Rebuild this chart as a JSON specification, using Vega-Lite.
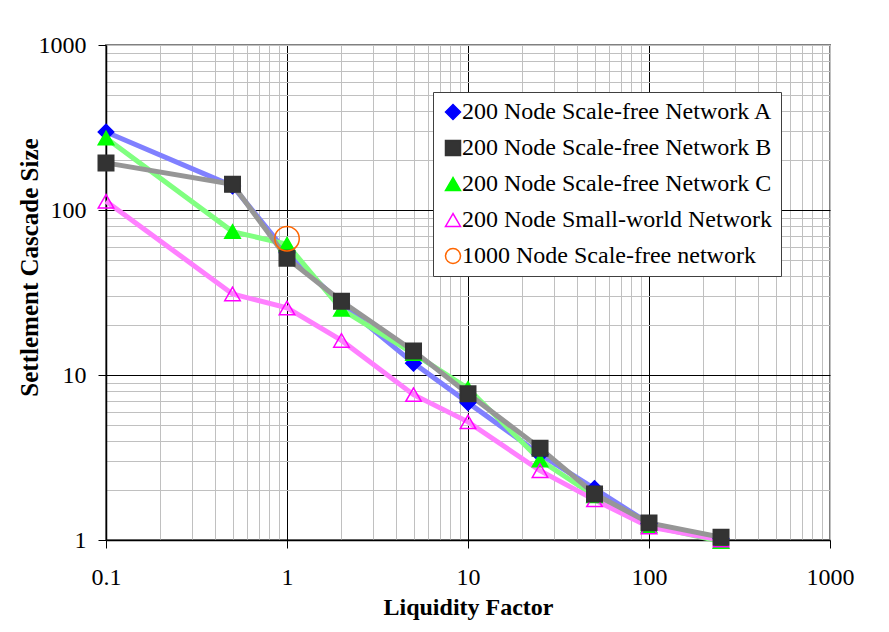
{
  "$schema": "https://vega.github.io/schema/vega-lite/v6.json",
  "autosize": {"type": "none"},
  "padding": {"left": 106, "top": 45, "right": 59, "bottom": 92},
  "width": 724,
  "height": 495,
  "background": "white",
  "config": {
    "view": {"stroke": "#808080", "strokeWidth": 2},
    "axis": {
      "labelFont": "Liberation Serif",
      "labelFontSize": 24,
      "labelColor": "black",
      "titleFont": "Liberation Serif",
      "titleFontSize": 24,
      "titleFontWeight": "bold",
      "titleColor": "black",
      "domainColor": "black",
      "domainWidth": 1.5,
      "tickColor": "black",
      "tickSize": 8,
      "tickWidth": 1,
      "gridWidth": 1
    },
    "legend": {
      "labelFont": "Liberation Serif",
      "labelFontSize": 24,
      "labelColor": "black",
      "labelLimit": 500,
      "symbolSize": 225,
      "symbolStrokeWidth": 1.5
    }
  },
  "datasets": {
    "series": [
      {"series": "200 Node Scale-free Network A", "x": 0.1, "y": 297},
      {"series": "200 Node Scale-free Network A", "x": 0.5, "y": 140},
      {"series": "200 Node Scale-free Network A", "x": 1, "y": 55},
      {"series": "200 Node Scale-free Network A", "x": 2, "y": 27},
      {"series": "200 Node Scale-free Network A", "x": 5, "y": 11.8},
      {"series": "200 Node Scale-free Network A", "x": 10, "y": 6.8},
      {"series": "200 Node Scale-free Network A", "x": 25, "y": 3.3},
      {"series": "200 Node Scale-free Network A", "x": 50, "y": 2.05},
      {"series": "200 Node Scale-free Network A", "x": 100, "y": 1.26},
      {"series": "200 Node Scale-free Network A", "x": 250, "y": 1.02},
      {"series": "200 Node Scale-free Network C", "x": 0.1, "y": 273},
      {"series": "200 Node Scale-free Network C", "x": 0.5, "y": 74},
      {"series": "200 Node Scale-free Network C", "x": 1, "y": 62},
      {"series": "200 Node Scale-free Network C", "x": 2, "y": 25},
      {"series": "200 Node Scale-free Network C", "x": 5, "y": 13.5},
      {"series": "200 Node Scale-free Network C", "x": 10, "y": 8.3},
      {"series": "200 Node Scale-free Network C", "x": 25, "y": 3.05},
      {"series": "200 Node Scale-free Network C", "x": 50, "y": 1.85},
      {"series": "200 Node Scale-free Network C", "x": 100, "y": 1.22},
      {"series": "200 Node Scale-free Network C", "x": 250, "y": 0.98},
      {"series": "200 Node Small-world Network", "x": 0.1, "y": 113},
      {"series": "200 Node Small-world Network", "x": 0.5, "y": 31},
      {"series": "200 Node Small-world Network", "x": 1, "y": 25.5},
      {"series": "200 Node Small-world Network", "x": 2, "y": 16.2},
      {"series": "200 Node Small-world Network", "x": 5, "y": 7.6},
      {"series": "200 Node Small-world Network", "x": 10, "y": 5.2},
      {"series": "200 Node Small-world Network", "x": 25, "y": 2.63},
      {"series": "200 Node Small-world Network", "x": 50, "y": 1.75},
      {"series": "200 Node Small-world Network", "x": 100, "y": 1.2},
      {"series": "200 Node Small-world Network", "x": 250, "y": 1.0},
      {"series": "200 Node Scale-free Network B", "x": 0.1, "y": 193},
      {"series": "200 Node Scale-free Network B", "x": 0.5, "y": 143},
      {"series": "200 Node Scale-free Network B", "x": 1, "y": 51},
      {"series": "200 Node Scale-free Network B", "x": 2, "y": 28},
      {"series": "200 Node Scale-free Network B", "x": 5, "y": 14},
      {"series": "200 Node Scale-free Network B", "x": 10, "y": 7.7},
      {"series": "200 Node Scale-free Network B", "x": 25, "y": 3.6},
      {"series": "200 Node Scale-free Network B", "x": 50, "y": 1.9},
      {"series": "200 Node Scale-free Network B", "x": 100, "y": 1.27},
      {"series": "200 Node Scale-free Network B", "x": 250, "y": 1.04}
    ],
    "big": [
      {"series": "1000 Node Scale-free network", "x": 1, "y": 67}
    ]
  },
  "encoding": {
    "x": {
      "field": "x", "type": "quantitative",
      "scale": {"type": "log", "domain": [0.1, 1000], "nice": false},
      "axis": {
        "title": "Liquidity Factor",
        "values": [0.1,0.2,0.3,0.4,0.5,0.6,0.7,0.8,0.9,1,2,3,4,5,6,7,8,9,10,20,30,40,50,60,70,80,90,100,200,300,400,500,600,700,800,900,1000],
        "labelExpr": "indexof([0.1,1,10,100,1000], datum.value) >= 0 ? format(datum.value, '~g') : ''",
        "labelPadding": 17,
        "labelFlush": false,
        "labelOverlap": false,
        "gridColor": {"condition": {"test": "indexof([1,10,100], datum.value) >= 0", "value": "black"}, "value": "#c0c0c0"},
        "tickOpacity": {"condition": {"test": "indexof([0.1,1,10,100,1000], datum.value) >= 0", "value": 1}, "value": 0},
        "titleY": 67,
        "titleBaseline": "middle"
      }
    },
    "y": {
      "field": "y", "type": "quantitative",
      "scale": {"type": "log", "domain": [1, 1000], "nice": false},
      "axis": {
        "title": "Settlement Cascade Size",
        "values": [1,2,3,4,5,6,7,8,9,10,20,30,40,50,60,70,80,90,100,200,300,400,500,600,700,800,900,1000],
        "labelExpr": "indexof([1,10,100,1000], datum.value) >= 0 ? format(datum.value, '~g') : ''",
        "labelPadding": 12,
        "labelFlush": false,
        "labelOverlap": false,
        "gridColor": {"condition": {"test": "indexof([10,100], datum.value) >= 0", "value": "black"}, "value": "#c0c0c0"},
        "tickOpacity": {"condition": {"test": "indexof([1,10,100,1000], datum.value) >= 0", "value": 1}, "value": 0},
        "titleFontSize": 25,
        "titleX": -77,
        "titleY": 222,
        "titleBaseline": "middle"
      }
    }
  },
  "layer": [
    {
      "data": {"name": "series"},
      "mark": {"type": "line", "strokeWidth": 5, "clip": false},
      "encoding": {
        "color": {
          "field": "series", "type": "nominal", "legend": null,
          "scale": {
            "domain": ["200 Node Scale-free Network A", "200 Node Scale-free Network C", "200 Node Small-world Network", "200 Node Scale-free Network B"],
            "range": ["#8080ff", "#80ff80", "#ff80ff", "#969696"]
          }
        }
      }
    },
    {
      "data": {"name": "series"},
      "mark": {"type": "point", "size": 240, "strokeWidth": 1.5, "opacity": 1, "clip": false},
      "encoding": {
        "shape": {
          "field": "series", "type": "nominal",
          "scale": {
            "domain": ["200 Node Scale-free Network A", "200 Node Scale-free Network B", "200 Node Scale-free Network C", "200 Node Small-world Network", "1000 Node Scale-free network"],
            "range": ["diamond", "square", "triangle-up", "triangle-up", "circle"]
          },
          "legend": {
            "title": null,
            "orient": "none",
            "legendX": 327,
            "legendY": 47,
            "padding": 8,
            "rowPadding": 12,
            "labelOffset": -3,
            "strokeColor": "#404040",
            "fillColor": "white"
          }
        },
        "fill": {
          "field": "series", "type": "nominal",
          "scale": {
            "domain": ["200 Node Scale-free Network A", "200 Node Scale-free Network B", "200 Node Scale-free Network C", "200 Node Small-world Network", "1000 Node Scale-free network"],
            "range": ["#0000ff", "#333333", "#00ff00", "transparent", "transparent"]
          },
          "legend": {
            "title": null,
            "orient": "none",
            "legendX": 327,
            "legendY": 47,
            "padding": 8,
            "rowPadding": 12,
            "labelOffset": -3,
            "strokeColor": "#404040",
            "fillColor": "white"
          }
        },
        "stroke": {
          "field": "series", "type": "nominal",
          "scale": {
            "domain": ["200 Node Scale-free Network A", "200 Node Scale-free Network B", "200 Node Scale-free Network C", "200 Node Small-world Network", "1000 Node Scale-free network"],
            "range": ["#0000ff", "#333333", "#00ff00", "#ff00ff", "#ff6600"]
          },
          "legend": {
            "title": null,
            "orient": "none",
            "legendX": 327,
            "legendY": 47,
            "padding": 8,
            "rowPadding": 12,
            "labelOffset": -3,
            "strokeColor": "#404040",
            "fillColor": "white"
          }
        }
      }
    },
    {
      "data": {"name": "big"},
      "mark": {"type": "point", "size": 600, "strokeWidth": 1.5, "opacity": 1},
      "encoding": {
        "shape": {"field": "series", "type": "nominal"},
        "fill": {"field": "series", "type": "nominal"},
        "stroke": {"field": "series", "type": "nominal"}
      }
    }
  ]
}
